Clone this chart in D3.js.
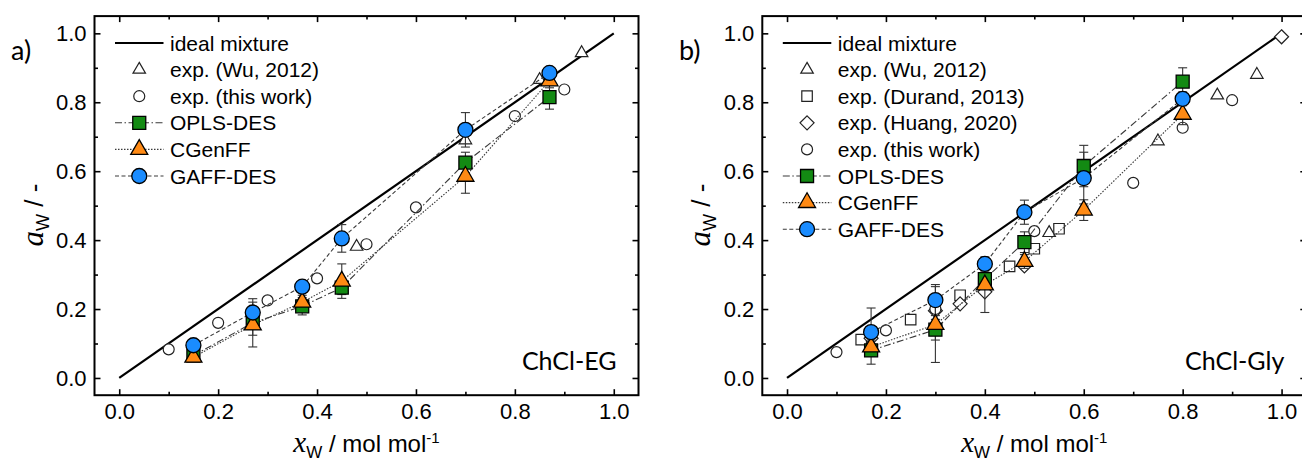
<!DOCTYPE html>
<html>
<head>
<meta charset="utf-8">
<script src="https://cdn.jsdelivr.net/npm/d3@7"></script>
<style>
  html, body { margin: 0; padding: 0; background: #fff; }
  svg { display: block; }
</style>
</head>
<body>
<svg id="chart" width="1302" height="468"></svg>
<script>
// ---------- tick values ----------
const majorTicks = [0.0, 0.2, 0.4, 0.6, 0.8, 1.0];
const minorTicks = [0.1, 0.3, 0.5, 0.7, 0.9];

// ---------- ChCl-EG ----------
const egWuX = [0.48, 0.70, 0.85, 0.935];
const egWuY = [0.381, 0.69, 0.865, 0.943];
const egThisX = [0.10, 0.20, 0.30, 0.40, 0.50, 0.60, 0.80, 0.90];
const egThisY = [0.083, 0.16, 0.225, 0.289, 0.388, 0.495, 0.76, 0.837];
const egSimX = [0.15, 0.27, 0.37, 0.45, 0.70, 0.87];
const egOpls = [0.065, 0.16, 0.208, 0.262, 0.625, 0.815];
const egOplsErr = [0.01, 0.07, 0.025, 0.02, 0.03, 0.035];
const egCgenff = [0.06, 0.154, 0.22, 0.281, 0.585, 0.862];
const egCgenffErr = [0.01, 0.03, 0.02, 0.05, 0.049, 0.02];
const egGaff = [0.095, 0.19, 0.265, 0.405, 0.72, 0.885];
const egGaffErr = [0.01, 0.03, 0.015, 0.04, 0.05, 0.015];

// ---------- ChCl-Gly ----------
const glyWuX = [0.53, 0.75, 0.87, 0.95];
const glyWuY = [0.421, 0.687, 0.82, 0.88];
const glyDurandX = [0.15, 0.25, 0.35, 0.45, 0.50, 0.55];
const glyDurandY = [0.111, 0.169, 0.24, 0.324, 0.375, 0.433];
const glyHuangX = [0.17, 0.30, 0.35, 0.40, 0.48, 1.00];
const glyHuangY = [0.115, 0.195, 0.215, 0.25, 0.325, 0.99];
const glyThisX = [0.10, 0.20, 0.30, 0.50, 0.70, 0.80, 0.90];
const glyThisY = [0.075, 0.138, 0.20, 0.426, 0.566, 0.726, 0.806];
const glySimX = [0.17, 0.30, 0.40, 0.48, 0.60, 0.80];
const glyOpls = [0.08, 0.14, 0.287, 0.394, 0.615, 0.86];
const glyOplsErr = [0.04, 0.03, 0.02, 0.03, 0.06, 0.04];
const glyCgenff = [0.09, 0.155, 0.27, 0.338, 0.487, 0.765];
const glyCgenffErr = [0.02, 0.11, 0.08, 0.02, 0.03, 0.03];
const glyGaff = [0.133, 0.226, 0.331, 0.481, 0.58, 0.81];
const glyGaffErr = [0.07, 0.045, 0.02, 0.035, 0.075, 0.02];

// ---------- styles ----------
const SANS = "'Liberation Sans', Arial, sans-serif";
const SERIF = "'Liberation Serif', 'Times New Roman', serif";
const CAL = "Lato, 'Open Sans', sans-serif";
const GREEN = "#138a13", ORANGE = "#ff8a14", BLUE = "#1a8cff";
const LINE_GRAY = "#3a3a3a";

const svg = d3.select("#chart");

// marker path builders (centred on 0,0)
function triPath(w) {
  const h = w * Math.sqrt(3) / 2;
  return `M0,${-2 * h / 3}L${w / 2},${h / 3}L${-w / 2},${h / 3}Z`;
}
function sqPath(s) { const h = s / 2; return `M${-h},${-h}H${h}V${h}H${-h}Z`; }
function diaPath(s) { return `M0,${-s}L${s},0L0,${s}L${-s},0Z`; }
function circPath(r) { const p = d3.path(); p.arc(0, 0, r, 0, 2 * Math.PI); p.closePath(); return p.toString(); }

const markers = {
  opls: { d: sqPath(13), fill: GREEN, dash: "7,2.5,1.5,2.5" },
  cgenff: { d: triPath(17), fill: ORANGE, dash: "1.5,1.5" },
  gaff: { d: circPath(7.5), fill: BLUE, dash: "4,2.5" },
  wu: { d: triPath(12.5) },
  durand: { d: sqPath(10.5) },
  huang: { d: diaPath(7) },
  thiswork: { d: circPath(5.5) }
};

function drawPanel(cfg) {
  const g = svg.append("g");
  const x = d3.scaleLinear().domain([-0.05, 1.05]).range([cfg.left, cfg.left + 544]);
  const y = d3.scaleLinear().domain([-0.05, 1.05]).range([395.2, 16.1]);
  const [y0, y1] = y.range();
  const [x0, x1] = x.range();
  const fmt = d3.format(".1f");

  function styleAxis(sel) {
    sel.select(".domain").remove();
    sel.selectAll(".tick line").attr("stroke", "#000").attr("stroke-width", 1.6);
    sel.selectAll(".tick text").attr("font-family", SANS).attr("font-size", 22).attr("fill", "#000");
  }
  // bottom & left with labels, ticks pointing inward
  g.append("g").attr("transform", `translate(0,${y0})`)
    .call(d3.axisBottom(x).tickValues(majorTicks).tickSize(-6).tickPadding(8).tickFormat(fmt)).call(styleAxis);
  g.append("g").attr("transform", `translate(0,${y0})`)
    .call(d3.axisBottom(x).tickValues(minorTicks).tickSize(-3.5).tickFormat("")).call(styleAxis);
  g.append("g").attr("transform", `translate(${x0},0)`)
    .call(d3.axisLeft(y).tickValues(majorTicks).tickSize(-6).tickPadding(8).tickFormat(fmt)).call(styleAxis);
  g.append("g").attr("transform", `translate(${x0},0)`)
    .call(d3.axisLeft(y).tickValues(minorTicks).tickSize(-3.5).tickFormat("")).call(styleAxis);
  // top & right mirror ticks
  g.append("g").attr("transform", `translate(0,${y1})`)
    .call(d3.axisTop(x).tickValues(majorTicks).tickSize(-6).tickFormat("")).call(styleAxis);
  g.append("g").attr("transform", `translate(0,${y1})`)
    .call(d3.axisTop(x).tickValues(minorTicks).tickSize(-3.5).tickFormat("")).call(styleAxis);
  g.append("g").attr("transform", `translate(${x1},0)`)
    .call(d3.axisRight(y).tickValues(majorTicks).tickSize(-6).tickFormat("")).call(styleAxis);
  g.append("g").attr("transform", `translate(${x1},0)`)
    .call(d3.axisRight(y).tickValues(minorTicks).tickSize(-3.5).tickFormat("")).call(styleAxis);

  g.append("rect").attr("x", x0).attr("y", y1).attr("width", x1 - x0).attr("height", y0 - y1)
    .attr("fill", "none").attr("stroke", "#000").attr("stroke-width", 2);

  // ideal mixture
  g.append("line").attr("x1", x(0)).attr("y1", y(0)).attr("x2", x(1)).attr("y2", y(1))
    .attr("stroke", "#000").attr("stroke-width", 2.2);

  // experimental open symbols
  cfg.exp.forEach(e => {
    g.append("g").selectAll("path").data(e.xs.map((v, i) => [v, e.ys[i]])).join("path")
      .attr("d", markers[e.key].d)
      .attr("transform", d => `translate(${x(d[0])},${y(d[1])})`)
      .attr("fill", "#fff").attr("stroke", "#222").attr("stroke-width", 1.2);
  });

  // simulation connecting lines
  const line = d3.line().x(d => x(d[0])).y(d => y(d[1]));
  cfg.sim.forEach(s => {
    g.append("path").datum(cfg.simX.map((v, i) => [v, s.ys[i]]))
      .attr("d", line).attr("fill", "none").attr("stroke", LINE_GRAY)
      .attr("stroke-width", 1.1).attr("stroke-dasharray", markers[s.key].dash);
  });
  // error bars
  cfg.sim.forEach(s => {
    const eb = g.append("g").attr("stroke", "#333").attr("stroke-width", 1.1);
    cfg.simX.forEach((v, i) => {
      const cx = x(v), top = y(s.ys[i] + s.err[i]), bot = y(s.ys[i] - s.err[i]);
      eb.append("line").attr("x1", cx).attr("x2", cx).attr("y1", top).attr("y2", bot);
      eb.append("line").attr("x1", cx - 4.5).attr("x2", cx + 4.5).attr("y1", top).attr("y2", top);
      eb.append("line").attr("x1", cx - 4.5).attr("x2", cx + 4.5).attr("y1", bot).attr("y2", bot);
    });
  });
  // simulation markers
  cfg.sim.forEach(s => {
    g.append("g").selectAll("path").data(cfg.simX.map((v, i) => [v, s.ys[i]])).join("path")
      .attr("d", markers[s.key].d)
      .attr("transform", d => `translate(${x(d[0])},${y(d[1])})`)
      .attr("fill", markers[s.key].fill).attr("stroke", "#000").attr("stroke-width", 1.3);
  });

  // legend
  const lg = g.append("g");
  const lx0 = x0 + 20.5, lx1 = x0 + 69, lcx = (lx0 + lx1) / 2, tx = x0 + 75.5;
  cfg.legend.forEach((item, i) => {
    const ly = 43 + i * 26.6;
    if (item.key === "ideal") {
      lg.append("line").attr("x1", lx0).attr("x2", lx1).attr("y1", ly).attr("y2", ly)
        .attr("stroke", "#000").attr("stroke-width", 2.2);
    } else if (markers[item.key].fill) {
      lg.append("line").attr("x1", lx0).attr("x2", lx1).attr("y1", ly).attr("y2", ly)
        .attr("stroke", LINE_GRAY).attr("stroke-width", 1.1).attr("stroke-dasharray", markers[item.key].dash);
      lg.append("path").attr("d", markers[item.key].d).attr("transform", `translate(${lcx},${ly})`)
        .attr("fill", markers[item.key].fill).attr("stroke", "#000").attr("stroke-width", 1.3);
    } else {
      lg.append("path").attr("d", markers[item.key].d).attr("transform", `translate(${lcx},${ly})`)
        .attr("fill", "#fff").attr("stroke", "#222").attr("stroke-width", 1.2);
    }
    lg.append("text").attr("x", tx).attr("y", ly + 7.5).attr("font-family", SANS).attr("font-size", 21)
      .attr("fill", "#000").text(item.label);
  });

  // system name
  g.append("text").attr("x", x1 - 22).attr("y", 370).attr("text-anchor", "end")
    .attr("font-family", CAL).attr("font-size", 25).attr("fill", "#000").text(cfg.name);
  // panel letter
  g.append("text").attr("x", cfg.letterX).attr("y", 60).attr("font-family", CAL)
    .attr("font-size", 27).attr("fill", "#000").text(cfg.letter);

  // axis titles
  const xt = g.append("text").attr("x", (x0 + x1) / 2).attr("y", 452).attr("text-anchor", "middle")
    .attr("font-family", SANS).attr("font-size", 24).attr("fill", "#000");
  xt.append("tspan").attr("font-family", SERIF).attr("font-style", "italic").attr("font-size", 29).text("x");
  xt.append("tspan").attr("font-size", 17).attr("dy", 6).text("W");
  xt.append("tspan").attr("dy", -6).text(" / mol mol");
  xt.append("tspan").attr("font-size", 15).attr("dy", -9).text("-1");

  const yt = g.append("text").attr("transform", `translate(${cfg.left - 52},${215}) rotate(-90)`)
    .attr("text-anchor", "middle").attr("font-family", SANS).attr("font-size", 26).attr("fill", "#000");
  yt.append("tspan").attr("font-family", SERIF).attr("font-style", "italic").attr("font-size", 31).text("a");
  yt.append("tspan").attr("font-size", 18).attr("dy", 6).text("W");
  yt.append("tspan").attr("dy", -6).text(" / -");
}

drawPanel({
  left: 94.5, letter: "a)", letterX: 11, name: "ChCl-EG", simX: egSimX,
  exp: [
    { key: "wu", xs: egWuX, ys: egWuY },
    { key: "thiswork", xs: egThisX, ys: egThisY }
  ],
  sim: [
    { key: "opls", ys: egOpls, err: egOplsErr },
    { key: "cgenff", ys: egCgenff, err: egCgenffErr },
    { key: "gaff", ys: egGaff, err: egGaffErr }
  ],
  legend: [
    { key: "ideal", label: "ideal mixture" },
    { key: "wu", label: "exp. (Wu, 2012)" },
    { key: "thiswork", label: "exp. (this work)" },
    { key: "opls", label: "OPLS-DES" },
    { key: "cgenff", label: "CGenFF" },
    { key: "gaff", label: "GAFF-DES" }
  ]
});

drawPanel({
  left: 762.3, letter: "b)", letterX: 679, name: "ChCl-Gly", simX: glySimX,
  exp: [
    { key: "wu", xs: glyWuX, ys: glyWuY },
    { key: "durand", xs: glyDurandX, ys: glyDurandY },
    { key: "huang", xs: glyHuangX, ys: glyHuangY },
    { key: "thiswork", xs: glyThisX, ys: glyThisY }
  ],
  sim: [
    { key: "opls", ys: glyOpls, err: glyOplsErr },
    { key: "cgenff", ys: glyCgenff, err: glyCgenffErr },
    { key: "gaff", ys: glyGaff, err: glyGaffErr }
  ],
  legend: [
    { key: "ideal", label: "ideal mixture" },
    { key: "wu", label: "exp. (Wu, 2012)" },
    { key: "durand", label: "exp. (Durand, 2013)" },
    { key: "huang", label: "exp. (Huang, 2020)" },
    { key: "thiswork", label: "exp. (this work)" },
    { key: "opls", label: "OPLS-DES" },
    { key: "cgenff", label: "CGenFF" },
    { key: "gaff", label: "GAFF-DES" }
  ]
});
</script>
</body>
</html>
